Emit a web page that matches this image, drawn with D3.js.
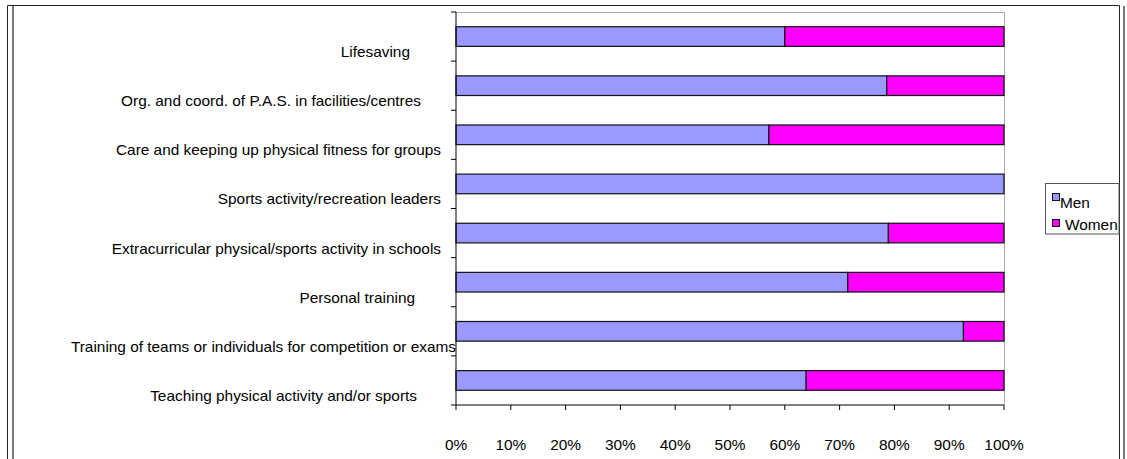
<!DOCTYPE html>
<html>
<head>
<meta charset="utf-8">
<script src="https://cdn.jsdelivr.net/npm/d3@7"></script>
<style>
body{margin:0;background:#fff;}
svg text{font-family:Arial,"Liberation Sans",sans-serif;fill:#000;}
</style>
</head>
<body>
<svg id="svg" width="1127" height="459"></svg>
<script>
const categories=["Lifesaving","Org. and coord. of P.A.S. in facilities/centres","Care and keeping up physical fitness for groups","Sports activity/recreation leaders","Extracurricular physical/sports activity in schools","Personal training","Training of teams or individuals for competition or exams","Teaching physical activity and/or sports"];
const menShare=[60.0,78.6,57.1,100,78.9,71.5,92.6,63.9];
const womenShare=[40.0,21.4,42.9,0,21.1,28.5,7.4,36.1];
const seriesNames=["Men","Women"];
const seriesColors=["#9999FF","#FF00FF"];
const xTicks=[0,10,20,30,40,50,60,70,80,90,100];

const plotLeft=456, plotRight=1004, plotTop=12, plotBottom=405;
const stretch=1.1; //text in the picture is a bit wider than normal Arial
//right end of each category label (the source chart does not line them up)
const labelEnd=[410,421,441,441,441,415,456,417];

var svg=d3.select("#svg");

//outer frame
svg.append("path").attr("d","M7.5,459 V5.5 H1119.5 V459").attr("fill","none").attr("stroke","#222").attr("stroke-width",1);
svg.append("line").attr("x1",13).attr("x2",13).attr("y1",6).attr("y2",459).attr("stroke","#777").attr("stroke-width",2);
svg.append("line").attr("x1",1124).attr("x2",1124).attr("y1",6).attr("y2",459).attr("stroke","#777").attr("stroke-width",2);

var x=d3.scaleLinear().domain([0,100]).range([plotLeft,plotRight]);
var y=d3.scaleBand().domain(categories).range([plotTop,plotBottom]).paddingInner(0.6).paddingOuter(0.3);
var yb=d3.scaleBand().domain(categories).range([plotTop,plotBottom]);

//plot area border (top and right)
svg.append("path").attr("d","M"+plotLeft+","+(plotTop+0.5)+" H"+(plotRight+0.5)+" V"+plotBottom).attr("fill","none").attr("stroke","#aaa");

//stacked bars
var rows=categories.map((c,i)=>({cat:c,Men:menShare[i],Women:womenShare[i]}));
var stack=d3.stack().keys(seriesNames)(rows);
svg.append("g").selectAll("g").data(stack).enter().append("g")
    .attr("fill",(d,i)=>seriesColors[i])
    .selectAll("rect").data(d=>d.filter(p=>p[1]-p[0]>0)).enter().append("rect")
        .attr("x",d=>x(d[0]))
        .attr("y",d=>y(d.data.cat))
        .attr("width",d=>x(d[1])-x(d[0]))
        .attr("height",y.bandwidth())
        .attr("stroke","#111")
        .attr("stroke-width",1.2);

//y axis
var yAxis=svg.append("g");
yAxis.append("line").attr("x1",plotLeft).attr("x2",plotLeft).attr("y1",plotTop).attr("y2",plotBottom).attr("stroke","#000");
yAxis.selectAll(".tk").data(d3.range(categories.length+1)).enter().append("line")
    .attr("x1",plotLeft-5).attr("x2",plotLeft)
    .attr("y1",i=>plotTop+i*yb.step()).attr("y2",i=>plotTop+i*yb.step())
    .attr("stroke","#000");
yAxis.selectAll("text").data(categories).enter().append("text")
    .attr("transform",(d,i)=>"translate("+labelEnd[i]+","+(yb(d)+yb.bandwidth()/2+20.5)+") scale("+stretch+",1)")
    .attr("text-anchor","end")
    .style("font-size","14px")
    .text(d=>d);

//x axis
var xAxis=svg.append("g");
xAxis.append("line").attr("x1",plotLeft).attr("x2",plotRight).attr("y1",plotBottom).attr("y2",plotBottom).attr("stroke","#000");
xAxis.selectAll(".tk").data(xTicks).enter().append("line")
    .attr("x1",d=>x(d)).attr("x2",d=>x(d)).attr("y1",plotBottom).attr("y2",plotBottom+5).attr("stroke","#000");
xAxis.selectAll("text").data(xTicks).enter().append("text")
    .attr("transform",d=>"translate("+x(d)+",450) scale("+stretch+",1)")
    .attr("text-anchor","middle")
    .style("font-size","14px")
    .text(d=>d+"%");

//legend
var legend=svg.append("g");
legend.append("rect").attr("x",1045.5).attr("y",183.5).attr("width",73.5).attr("height",50.5).attr("fill","#fff").attr("stroke","#555");
var legendY=[193,219];
var legendTextPos=[[1060,208],[1065,230]];
seriesNames.forEach((s,i)=>{
    legend.append("rect").attr("x",1052.5).attr("y",legendY[i]+0.5).attr("width",7).attr("height",7).attr("fill",seriesColors[i]).attr("stroke","#111");
    legend.append("text")
        .attr("transform","translate("+legendTextPos[i][0]+","+legendTextPos[i][1]+") scale("+stretch+",1)")
        .style("font-size","14px")
        .text(s);
});
</script>
</body>
</html>
